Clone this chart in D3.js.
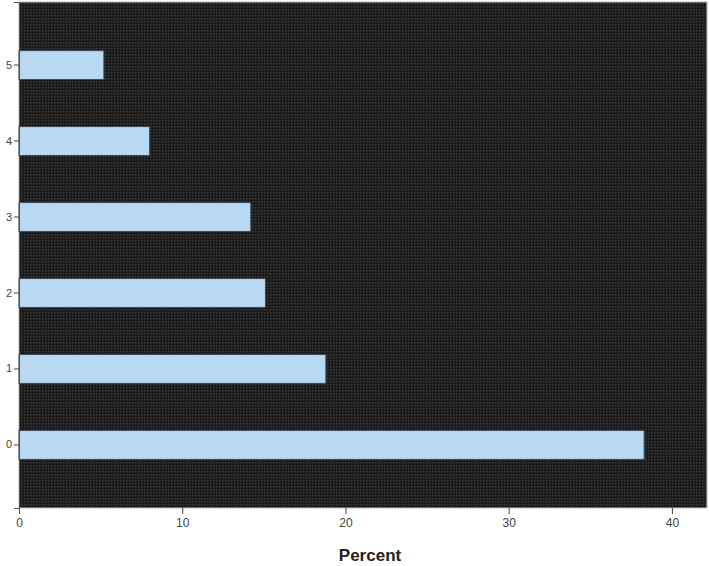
<!DOCTYPE html>
<html>
<head>
<meta charset="utf-8">
<script src="https://cdn.jsdelivr.net/npm/d3@7"></script>
<style>
  body { margin: 0; background: #fff; }
  svg { display: block; font-family: Arial, "Liberation Sans", sans-serif; }
</style>
</head>
<body>
<svg id="chart" width="709" height="566"></svg>
<script>
// values
var categories = ["0", "1", "2", "3", "4", "5"];
var percents = [38.3, 18.8, 15.1, 14.2, 8.0, 5.2];
var xTicks = [0, 10, 20, 30, 40];

var svg = d3.select("#chart"),
    width = +svg.attr("width"),
    height = +svg.attr("height");

var margin = {top: 2, right: 2, bottom: 58, left: 19};

var x = d3.scaleLinear()
    .domain([0, 42.15])
    .range([margin.left, width - margin.right]);

var y = d3.scaleBand()
    .domain(categories.slice().reverse())
    .range([margin.top, height - margin.bottom])
    .paddingInner(0.62)
    .paddingOuter(0.64);

// dotted dark background like the spss chart
var defs = svg.append("defs");
var pat = defs.append("pattern")
    .attr("id", "dots")
    .attr("width", 3)
    .attr("height", 3)
    .attr("patternUnits", "userSpaceOnUse");
pat.append("rect").attr("width", 3).attr("height", 3).attr("fill", "#1a1a1a");
pat.append("rect").attr("x", 0).attr("y", 0).attr("width", 1.5).attr("height", 1.5).attr("fill", "#3a3a3a");

svg.append("rect")
    .attr("x", margin.left)
    .attr("y", margin.top)
    .attr("width", width - margin.right - margin.left)
    .attr("height", height - margin.bottom - margin.top)
    .attr("fill", "url(#dots)")
    .attr("stroke", "#bbb")
    .attr("stroke-width", 1);

svg.append("g")
    .selectAll("rect")
    .data(percents)
    .enter()
    .append("rect")
    .attr("x", x(0))
    .attr("y", function(d, i){ return y(categories[i]); })
    .attr("width", function(d){ return x(d) - x(0); })
    .attr("height", y.bandwidth())
    .attr("fill", "#b9d9f3")
    .attr("stroke", "#3b4a5a")
    .attr("stroke-width", 1);

var xAxis = svg.append("g")
    .attr("transform", "translate(0," + (height - margin.bottom) + ")")
    .call(d3.axisBottom(x).tickValues(xTicks).tickSize(6).tickPadding(4));
xAxis.select(".domain").remove();
xAxis.selectAll("line").attr("stroke", "#444");
xAxis.selectAll("text").attr("fill", "#444").style("font-size", "12px");

var yAxis = svg.append("g")
    .attr("transform", "translate(" + margin.left + ",0)")
    .call(d3.axisLeft(y).tickSize(5).tickPadding(2));
yAxis.select(".domain").attr("stroke", "#555");
yAxis.selectAll("line").attr("stroke", "#444");
yAxis.selectAll("text").attr("fill", "#444").style("font-size", "11px");

svg.append("text")
    .attr("x", 370)
    .attr("y", 561)
    .attr("text-anchor", "middle")
    .style("font-size", "17px")
    .style("font-weight", "bold")
    .attr("fill", "#222")
    .text("Percent");
</script>
</body>
</html>
